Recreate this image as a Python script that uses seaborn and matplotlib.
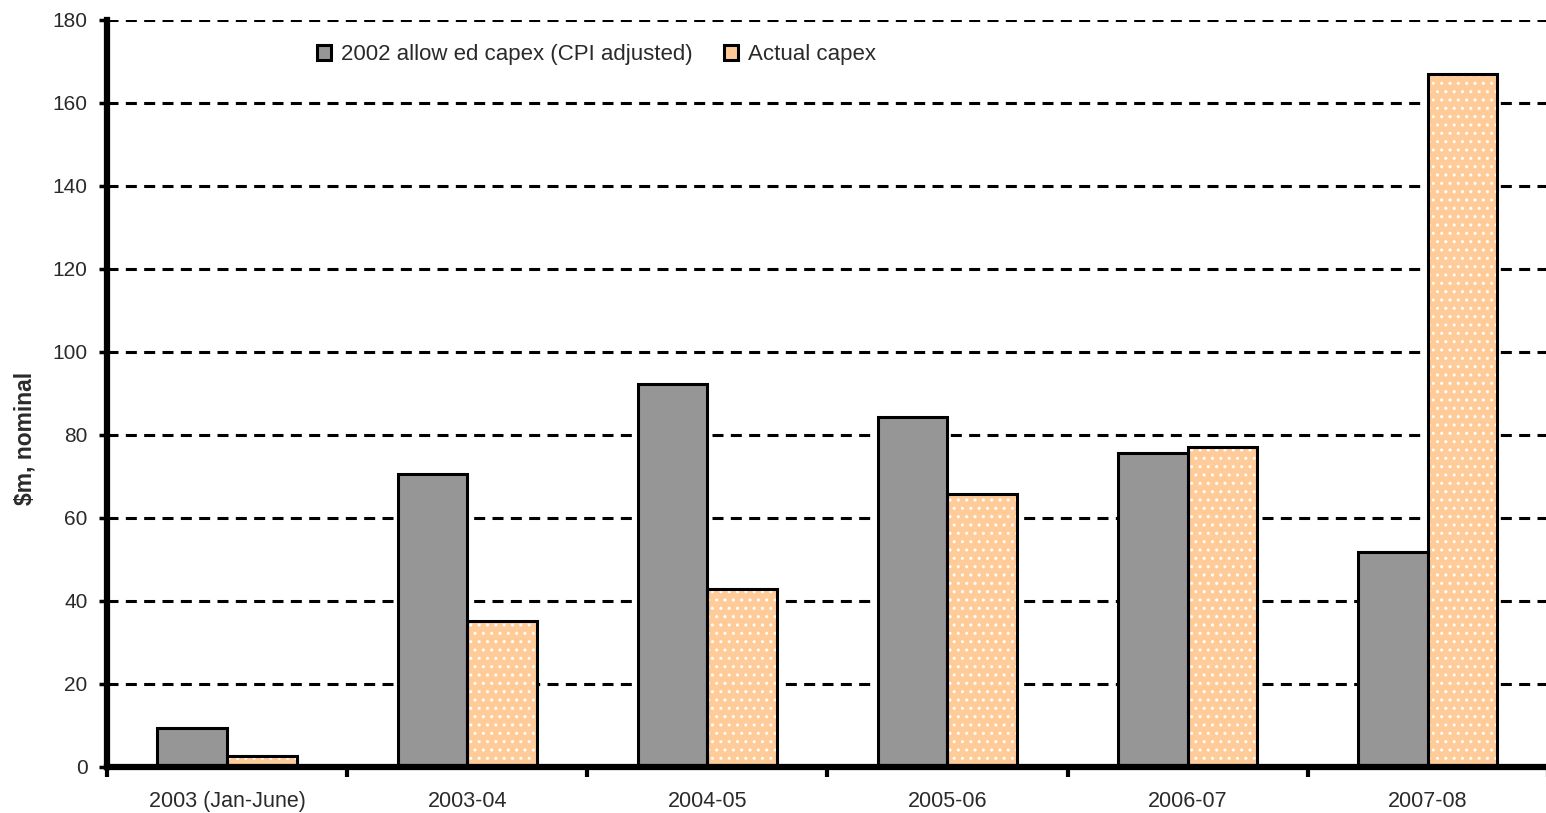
import matplotlib
matplotlib.use("Agg")
import matplotlib.pyplot as plt
import seaborn as sns
import pandas as pd
from matplotlib.patches import Patch, Rectangle

categories = ["2003 (Jan-June)", "2003-04", "2004-05", "2005-06", "2006-07", "2007-08"]
allowed = [9.5, 70.5, 92.3, 84.3, 75.7, 51.8]
actual = [2.7, 35.2, 42.9, 65.8, 77.1, 167.0]
series_names = ["2002 allow ed capex (CPI adjusted)", "Actual capex"]
yticks = [0, 20, 40, 60, 80, 100, 120, 140, 160, 180]

df = pd.DataFrame({
    "period": categories * 2,
    "value": allowed + actual,
    "series": [series_names[0]] * len(categories) + [series_names[1]] * len(categories),
})

sns.set_theme(style="white")
plt.rcParams["font.family"] = ["Liberation Sans", "DejaVu Sans"]

gray = "#969696"
orange = "#FFCC99"
textc = "#2a2a2a"

fig = plt.figure(figsize=(15.46, 8.13), dpi=100)
ax = fig.add_axes([0.0692, 0.0566, 0.932, 0.9188])

sns.barplot(data=df, x="period", y="value", hue="series", order=categories,
            hue_order=series_names, palette=[gray, orange], width=0.58,
            edgecolor="black", linewidth=2.2, saturation=1, ax=ax, zorder=3)

# hatch overlay for orange bars (white dotted texture)
for bar in ax.containers[1]:
    x, y = bar.get_xy()
    w, h = bar.get_width(), bar.get_height()
    ov = Rectangle((x, y), w, h, facecolor=orange, edgecolor="white",
                   hatch="..", linewidth=0, zorder=2.9)
    ax.add_patch(ov)
    bar.set_facecolor("none")

ax.set_ylim(0, 180)
ax.set_xlim(-0.5, 5.5)
ax.set_yticks(yticks)
ax.set_yticklabels([str(v) for v in yticks], fontsize=15, color=textc)
ax.yaxis.grid(True, color="black", linewidth=2.2, linestyle=(0, (3.6, 2.4)), zorder=1)
ax.xaxis.grid(False)
ax.set_axisbelow(True)

ax.set_xticks(range(len(categories)))
ax.set_xticklabels(categories, fontsize=15.5, color=textc)
ax.set_xticks([i - 0.5 for i in range(len(categories) + 1)], minor=True)
ax.tick_params(axis="x", which="major", length=0, pad=17)
ax.tick_params(axis="x", which="minor", length=7, width=3, direction="out", color="black", bottom=True)
ax.tick_params(axis="y", which="major", length=6, width=2.5, direction="out", color="black", pad=8, left=True)

for s in ["top", "right"]:
    ax.spines[s].set_visible(False)
for s in ["left", "bottom"]:
    ax.spines[s].set_color("black")
    ax.spines[s].set_linewidth(4.5)
    ax.spines[s].set_zorder(5)

ax.set_xlabel("")
ax.set_ylabel("\\$m, nominal", fontsize=16.5, color=textc, fontweight="bold")
ax.yaxis.set_label_coords(-0.049, 0.44)

if ax.get_legend() is not None:
    ax.get_legend().remove()
handles = [Patch(facecolor=gray, edgecolor="black", linewidth=2.2),
           Patch(facecolor=orange, edgecolor="black", linewidth=2.2)]
ax.legend(handles, series_names, loc="upper left", bbox_to_anchor=(0.1455, 0.968),
          ncol=2, frameon=False, fontsize=16, handlelength=0.65, handleheight=0.65,
          handletextpad=0.45, columnspacing=1.4, labelcolor=textc,
          borderaxespad=0, borderpad=0)

fig.savefig("out.png", dpi=100, facecolor="white")
